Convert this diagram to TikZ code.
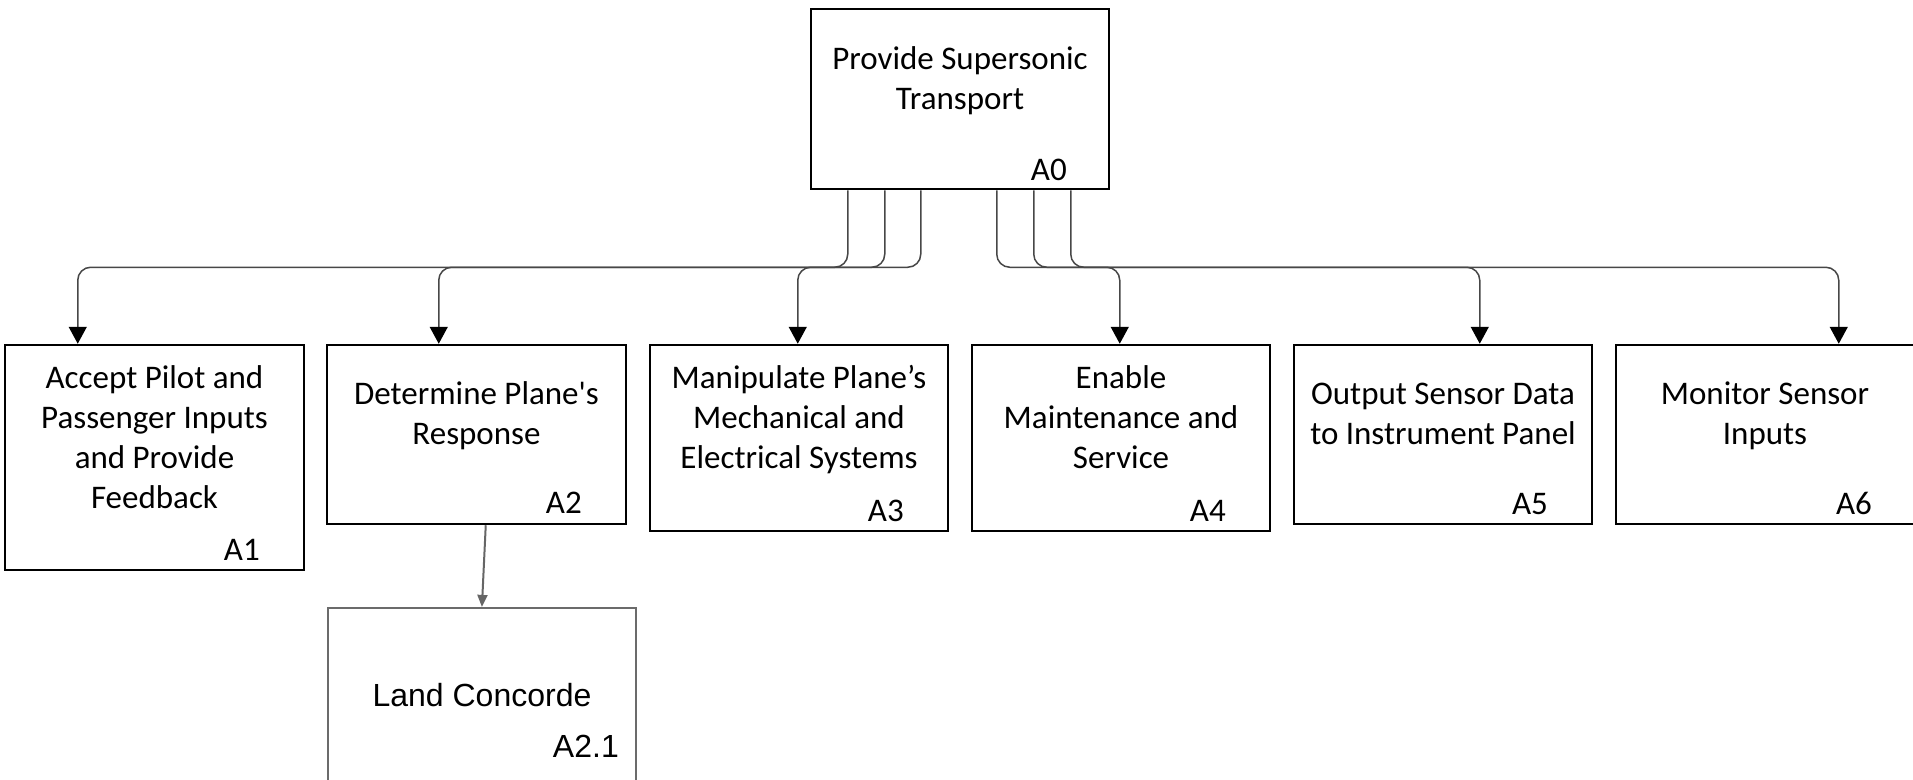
\documentclass[tikz,border=0pt]{standalone}
\usepackage{fontspec}
\setmainfont{Carlito}
\newfontfamily\arialfont{Liberation Sans}
\usetikzlibrary{arrows.meta}

% strut that fixes the height of the first text line
\newcommand\firstline{\rule{0pt}{28pt}}

\begin{document}
\begin{tikzpicture}[x=1pt,y=-1pt,
  box/.style={draw=black, line width=2.5pt, rectangle, inner sep=0pt},
  subbox/.style={draw=black!58, line width=2.2pt, rectangle, inner sep=0pt},
  txt/.style={font=\fontsize{33}{40}\selectfont, align=center, inner sep=0pt, anchor=north},
  idl/.style={font=\fontsize{33}{40}\selectfont, inner sep=0pt, anchor=base east},
  subtxt/.style={font=\arialfont\fontsize{32}{38}\selectfont, inner sep=0pt, anchor=base},
  conn/.style={draw=black!72, line width=1.5pt, rounded corners=13pt,
    -{Triangle[length=17pt,width=18pt,color=black]}},
  subconn/.style={draw=black!60, line width=2pt,
    -{Triangle[length=12pt,width=10pt]}}
]
\useasboundingbox (0,0) rectangle (1913,779);
\clip (0,0) rectangle (1913,779);
\fill[white] (0,0) rectangle (1913,779);

% top-level function
\node[box, minimum width=298pt, minimum height=180pt] (a0) at (960,99) {};
\node[txt] (a0t) at (960,41) {\firstline Provide Supersonic\\Transport};
\node[idl] (a0id) at (1067,180) {A0};

% decomposition
\node[box, minimum width=299pt, minimum height=225pt] (a1) at (154.5,457.5) {};
\node[box, minimum width=299pt, minimum height=179pt] (a2) at (476.5,434.5) {};
\node[box, minimum width=298pt, minimum height=186pt] (a3) at (799,438) {};
\node[box, minimum width=298pt, minimum height=186pt] (a4) at (1121,438) {};
\node[box, minimum width=298pt, minimum height=179pt] (a5) at (1443,434.5) {};
\node[box, minimum width=309pt, minimum height=179pt] (a6) at (1770.5,434.5) {};

\node[txt] (a1t) at (154.5,360) {\firstline Accept Pilot and\\Passenger Inputs\\and Provide\\Feedback};
\node[txt] (a2t) at (476.5,376) {\firstline Determine Plane\textquotesingle s\\Response};
\node[txt] (a3t) at (799,360) {\firstline Manipulate Plane’s\\Mechanical and\\Electrical Systems};
\node[txt] (a4t) at (1121,360) {\firstline Enable\\Maintenance and\\Service};
\node[txt] (a5t) at (1443,376) {\firstline Output Sensor Data\\to Instrument Panel};
\node[txt] (a6t) at (1765,376) {\firstline Monitor Sensor\\Inputs};

\node[idl] (a1id) at (260,560) {A1};
\node[idl] (a2id) at (582,513) {A2};
\node[idl] (a3id) at (904,521) {A3};
\node[idl] (a4id) at (1226,521) {A4};
\node[idl] (a5id) at (1548,514) {A5};
\node[idl] (a6id) at (1872,514) {A6};

% sub-function of A2
\node[subbox, minimum width=308pt, minimum height=192pt] (a21) at (482,704) {};
\node[subtxt] (a21t) at (482,706) {Land Concorde};
\node[subtxt, anchor=base east] (a21id) at (619,757) {A2.1};

% connectors from A0 to its children
\draw[conn] ([xshift=38pt]a0.south west) -- ++(0,77) -| ([xshift=149pt]a3.north west);
\draw[conn] ([xshift=75pt]a0.south west) -- ++(0,77) -| ([xshift=113pt]a2.north west);
\draw[conn] ([xshift=111pt]a0.south west) -- ++(0,77) -| ([xshift=74pt]a1.north west);
\draw[conn] ([xshift=187pt]a0.south west) -- ++(0,77) -| ([xshift=149pt]a4.north west);
\draw[conn] ([xshift=224pt]a0.south west) -- ++(0,77) -| ([xshift=187pt]a5.north west);
\draw[conn] ([xshift=261pt]a0.south west) -- ++(0,77) -| ([xshift=224pt]a6.north west);

% A2 refined into A2.1
\draw[subconn] ([xshift=160pt]a2.south west) -- ([xshift=155pt]a21.north west);
\end{tikzpicture}
\end{document}
